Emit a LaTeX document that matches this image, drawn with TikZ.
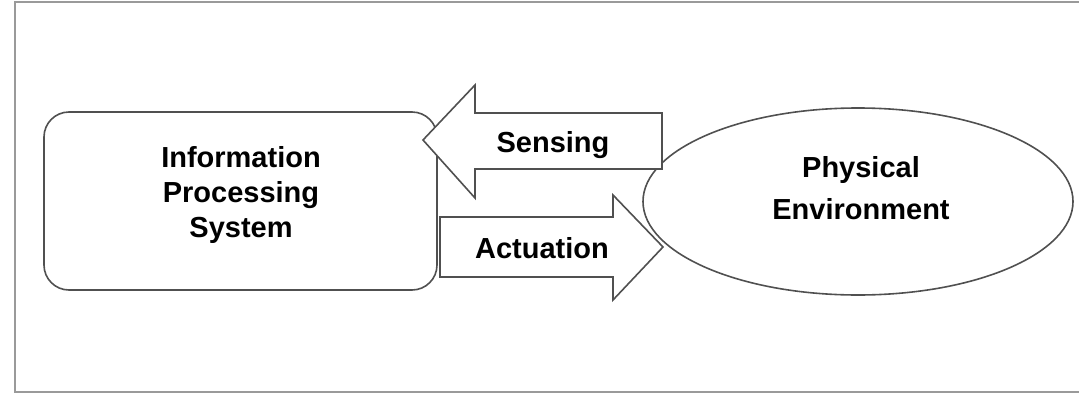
\documentclass[tikz,border=0pt]{standalone}
\usepackage{fontspec}
\setmainfont{Liberation Sans}
\usetikzlibrary{shapes.geometric}
\definecolor{linecol}{HTML}{505050}
\definecolor{framecol}{HTML}{9A9A9A}
\tikzset{
  shapeline/.style={draw=linecol, line width=1.6pt},
  blockarrow/.style={draw=linecol, line width=1.6pt, fill=white, line join=miter},
  lbl/.style={font=\bfseries\fontsize{29}{35}\selectfont, align=center, inner sep=0pt, text=black},
  lblwide/.style={font=\bfseries\fontsize{29}{42}\selectfont, align=center, inner sep=0pt, text=black},
}
\begin{document}
\begin{tikzpicture}[x=1pt,y=-1pt]
\useasboundingbox (0,0) rectangle (1079,394);
% frame
\draw[draw=framecol, line width=2.5pt] (1079,2) -- (15,2) -- (15,392) -- (1079,392);
% information processing system box
\node[shapeline, rectangle, rounded corners=25pt, minimum width=393pt, minimum height=178pt, inner sep=0pt] (ips) at (240.5,201) {};
% physical environment ellipse
\node[shapeline, ellipse, minimum width=430pt, minimum height=187pt, inner sep=0pt] (env) at (858,201.5) {};
% sensing arrow (env -> ips)
\coordinate (sTip) at (423,140);
\coordinate (sTail) at (662,141);
\draw[blockarrow] (sTip) -- (475,85) -- (475,113) -- (sTail |- 0,113) -- (sTail |- 0,169) -- (475,169) -- (475,198) -- cycle;
% actuation arrow (ips -> env)
\coordinate (aTail) at (440,247);
\coordinate (aTip) at (663,247);
\draw[blockarrow] (aTip) -- (613,195) -- (613,217) -- (aTail |- 0,217) -- (aTail |- 0,277) -- (613,277) -- (613,300) -- cycle;
% labels
\node[lbl] (ipsText) at (241,195) {Information\\Processing\\System};
\node[lblwide] (envText) at (861,188.5) {Physical\\Environment};
\node[lbl, anchor=base] (sText) at (553,152) {Sensing};
\node[lbl, anchor=base] (aText) at (542,258) {Actuation};
\end{tikzpicture}
\end{document}
